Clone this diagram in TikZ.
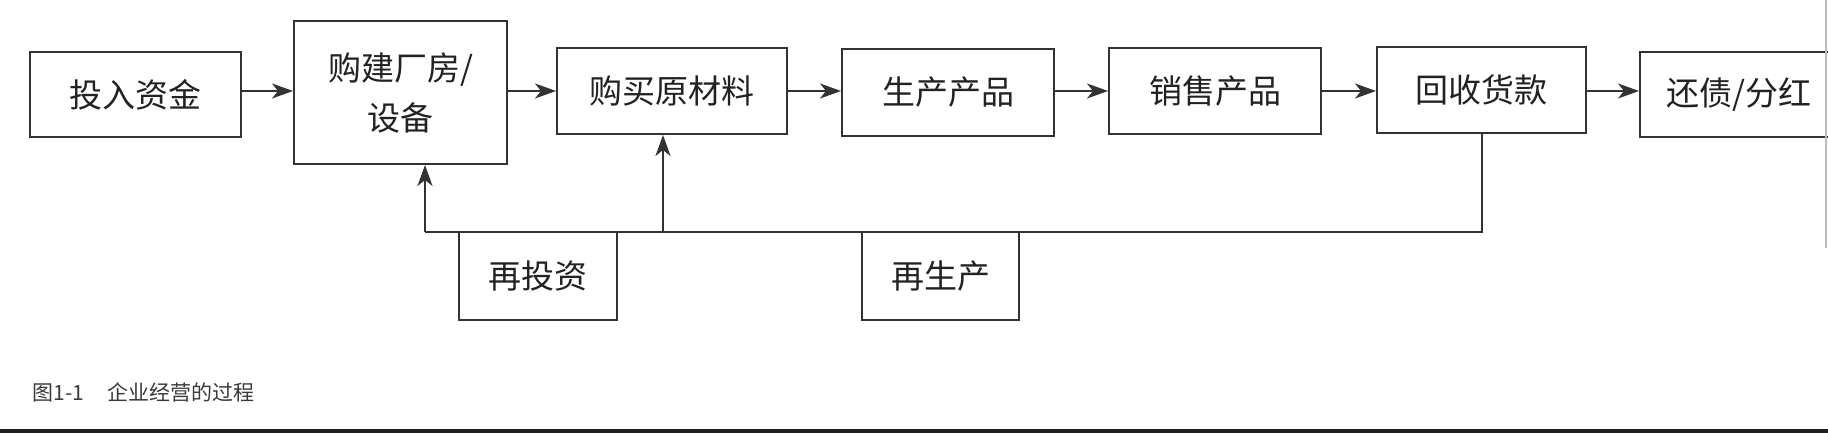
\documentclass[tikz,border=0pt]{standalone}
\usepackage{fontspec}
\setmainfont{Noto Sans CJK SC}
\usetikzlibrary{arrows.meta}
\definecolor{ln}{HTML}{333333}
\definecolor{tx}{HTML}{222222}
\definecolor{capc}{HTML}{3A3A3A}
\definecolor{edge}{HTML}{BBBBBB}
\begin{document}
\begin{tikzpicture}[x=0.5pt,y=-0.5pt,
  box/.style={draw=ln, line width=1pt, rectangle, inner sep=0pt, text=tx,
    font=\fontsize{16.5}{25}\selectfont, align=center},
  arr/.style={draw=ln, line width=1pt, -{Stealth[length=10.5pt,width=7.5pt,inset=3pt]}},
  link/.style={draw=ln, line width=1pt}]
\clip (0,0) rectangle (1828,433);
\fill[white] (0,0) rectangle (1828,433);
% main row
\node[box, minimum width=105.5pt, minimum height=42.5pt] (in) at (135.5,94.5) {投入资金};
\node[box, minimum width=106.5pt, minimum height=71.5pt] (build) at (400.5,92.5) {购建厂房/\\设备};
\node[box, minimum width=115pt, minimum height=43pt] (buy) at (672,91) {购买原材料};
\node[box, minimum width=106pt, minimum height=43.5pt] (prod) at (948,92.5) {生产产品};
\node[box, minimum width=106pt, minimum height=43pt] (sell) at (1215,91) {销售产品};
\node[box, minimum width=104.5pt, minimum height=43pt] (recv) at (1481.5,90) {回收货款};
\node[box, minimum width=99pt, minimum height=42.5pt] (repay) at (1739,94.5) {还债/分红};
% lower boxes
\node[box, minimum width=79pt, minimum height=44pt] (reinv) at (538,276) {再投资};
\node[box, minimum width=78.5pt, minimum height=44pt] (reprod) at (940.5,276) {再生产};
% coordinates
\coordinate (row) at (0,91);
\coordinate (fbl) at (425,232);
\coordinate (fbm) at (663,232);
% main arrows
\draw[arr] (in.east |- row) -- (build.west |- row);
\draw[arr] (build.east |- row) -- (buy.west |- row);
\draw[arr] (buy.east |- row) -- (prod.west |- row);
\draw[arr] (prod.east |- row) -- (sell.west |- row);
\draw[arr] (sell.east |- row) -- (recv.west |- row);
\draw[arr] (recv.east |- row) -- (repay.west |- row);
% feedback
\draw[link] (recv.south) -- (recv.south |- fbl) -- (fbl);
\draw[arr] (fbl) -- (fbl |- build.south);
\draw[arr] (fbm) -- (fbm |- buy.south);
% page artifacts
\draw[edge, line width=1pt] (1826,0) -- (1826,248);
\fill[black!87] (0,429) rectangle (1828,433);
% caption
\node[anchor=west, inner sep=0pt, text=capc, font=\fontsize{10.5}{12}\selectfont] (caption) at (32,392) {图1-1\hspace{12pt}企业经营的过程};
\end{tikzpicture}
\end{document}
